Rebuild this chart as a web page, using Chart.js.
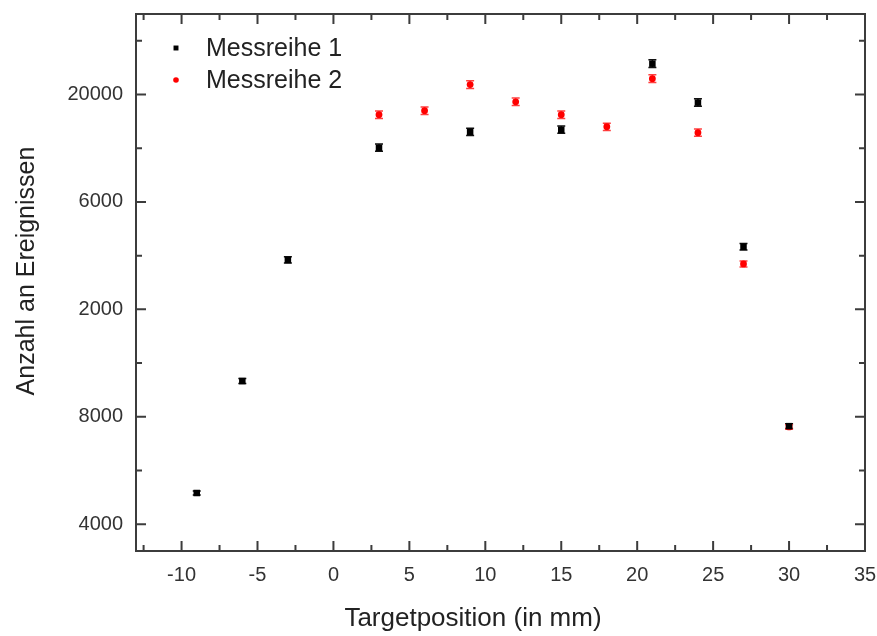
<!DOCTYPE html>
<html>
<head>
<meta charset="utf-8">
<script src="https://cdn.jsdelivr.net/npm/chart.js@4/dist/chart.umd.min.js"></script>
<style>
  body { margin: 0; background: #fff; }
  #wrap { width: 877px; height: 636px; }
</style>
</head>
<body>
<div id="wrap"><canvas id="chart"></canvas></div>
<script>
// Messreihe 1
const pos1 = [-9, -6, -3, 3, 9, 15, 21, 24, 27, 30];
const counts1 = [5160, 9330, 13840, 18020, 18610, 18690, 21150, 19700, 14330, 7650];
const err1 = [75, 95, 115, 135, 135, 135, 145, 140, 120, 90];
// Messreihe 2
const pos2 = [3, 6, 9, 12, 15, 18, 21, 24, 27, 30];
const counts2 = [19250, 19400, 20370, 19730, 19250, 18800, 20590, 18580, 13690, 7620];
const err2 = [140, 140, 145, 140, 140, 135, 145, 135, 115, 85];

const xMajor = [-10, -5, 0, 5, 10, 15, 20, 25, 30, 35];
const xMinor = [-12.5, -7.5, -2.5, 2.5, 7.5, 12.5, 17.5, 22.5, 27.5, 32.5];
const yMajor = [4000, 8000, 12000, 16000, 20000];
const yMinor = [6000, 10000, 14000, 18000, 22000];
const yTickLabels = ['4000', '8000', '2000', '6000', '20000'];

const xTitle = 'Targetposition (in mm)';
const yTitle = 'Anzahl an Ereignissen';

const FONT = '"Liberation Sans", Arial, sans-serif';
const AXIS = '#3c3c3c';

const errorBars = {
  id: 'errorBars',
  beforeDatasetsDraw(chart) {
    const ctx = chart.ctx;
    const y = chart.scales.y;
    chart.data.datasets.forEach((ds, di) => {
      const meta = chart.getDatasetMeta(di);
      ctx.save();
      ctx.strokeStyle = ds.errorColor;
      ctx.lineWidth = 1.5;
      meta.data.forEach((pt, i) => {
        const e = ds.errors[i];
        const v = ds.data[i].y;
        const top = y.getPixelForValue(v + e);
        const bot = y.getPixelForValue(v - e);
        ctx.beginPath();
        ctx.moveTo(pt.x, top); ctx.lineTo(pt.x, bot);
        ctx.moveTo(pt.x - 4, top); ctx.lineTo(pt.x + 4, top);
        ctx.moveTo(pt.x - 4, bot); ctx.lineTo(pt.x + 4, bot);
        ctx.stroke();
      });
      ctx.restore();
    });
  }
};

const frame = {
  id: 'frame',
  afterDraw(chart) {
    const ctx = chart.ctx;
    const a = chart.chartArea;
    const xs = chart.scales.x, ys = chart.scales.y;
    ctx.save();
    ctx.strokeStyle = AXIS;
    ctx.lineWidth = 2;
    ctx.strokeRect(a.left, a.top, a.right - a.left, a.bottom - a.top);
    ctx.beginPath();
    const xt = (vals, len) => vals.forEach(v => {
      const px = xs.getPixelForValue(v);
      ctx.moveTo(px, a.bottom); ctx.lineTo(px, a.bottom - len);
      ctx.moveTo(px, a.top); ctx.lineTo(px, a.top + len);
    });
    const yt = (vals, len) => vals.forEach(v => {
      const py = ys.getPixelForValue(v);
      ctx.moveTo(a.left, py); ctx.lineTo(a.left + len, py);
      ctx.moveTo(a.right, py); ctx.lineTo(a.right - len, py);
    });
    xt(xMajor, 10); xt(xMinor, 6);
    yt(yMajor, 10); yt(yMinor, 6);
    ctx.stroke();

    // axis titles (slightly off-centre, as in the original)
    ctx.fillStyle = '#222';
    ctx.textAlign = 'center';
    ctx.textBaseline = 'middle';
    ctx.font = '26px ' + FONT;
    ctx.fillText(xTitle, 473, 619);
    ctx.save();
    ctx.translate(27, 271);
    ctx.rotate(-Math.PI / 2);
    ctx.font = '25px ' + FONT;
    ctx.fillText(yTitle, 0, 0);
    ctx.restore();

    // legend
    const items = [{ y: 48 }, { y: 80 }];
    ctx.font = '25px ' + FONT;
    ctx.textAlign = 'left';
    chart.data.datasets.forEach((ds, i) => {
      const ly = items[i].y;
      ctx.fillStyle = ds.backgroundColor;
      Chart.helpers.drawPoint(ctx, { pointStyle: ds.pointStyle, radius: ds.pointStyle === 'rect' ? 3.5 : 2.8, rotation: 0 }, 176, ly);
      ctx.fillStyle = '#222';
      ctx.fillText(ds.label, 206, ly + 1);
    });
    ctx.restore();
  }
};

const noPad = s => { s.paddingTop = 0; s.paddingBottom = 0; s.paddingLeft = 0; s.paddingRight = 0; };

const data = {
  datasets: [
    {
      label: 'Messreihe 1',
      data: pos1.map((x, i) => ({ x: x, y: counts1[i] })),
      errors: err1,
      errorColor: '#111',
      pointStyle: 'rect',
      pointRadius: 4.6,
      borderWidth: 0,
      backgroundColor: '#000',
      borderColor: '#000'
    },
    {
      label: 'Messreihe 2',
      data: pos2.map((x, i) => ({ x: x, y: counts2[i] })),
      errors: err2,
      errorColor: '#ff4040',
      pointStyle: 'circle',
      pointRadius: 3.4,
      borderWidth: 0,
      backgroundColor: '#ff0000',
      borderColor: '#ff0000'
    }
  ]
};

const config = {
  type: 'scatter',
  data: data,
  plugins: [errorBars, frame],
  options: {
    responsive: true,
    maintainAspectRatio: false,
    animation: false,
    layout: { padding: { left: 0, top: 14, right: 12, bottom: 0 } },
    scales: {
      x: {
        type: 'linear',
        min: -13,
        max: 35,
        afterBuildTicks: s => { s.ticks = xMajor.map(v => ({ value: v })); },
        afterFit: s => { s.height = 85; noPad(s); },
        grid: { display: false, drawTicks: false },
        border: { display: false },
        ticks: { padding: 12, color: '#333', font: { family: FONT, size: 20 }, maxRotation: 0, autoSkip: false }
      },
      y: {
        type: 'linear',
        min: 3000,
        max: 23000,
        afterBuildTicks: s => { s.ticks = yMajor.map(v => ({ value: v })); },
        afterFit: s => { s.width = 136; noPad(s); },
        grid: { display: false, drawTicks: false },
        border: { display: false },
        ticks: {
          padding: 13, color: '#333', font: { family: FONT, size: 20 }, autoSkip: false,
          callback: (v, i) => yTickLabels[i]
        }
      }
    },
    plugins: {
      legend: { display: false },
      tooltip: { enabled: false }
    }
  }
};

new Chart(document.getElementById('chart'), config);
</script>
</body>
</html>
